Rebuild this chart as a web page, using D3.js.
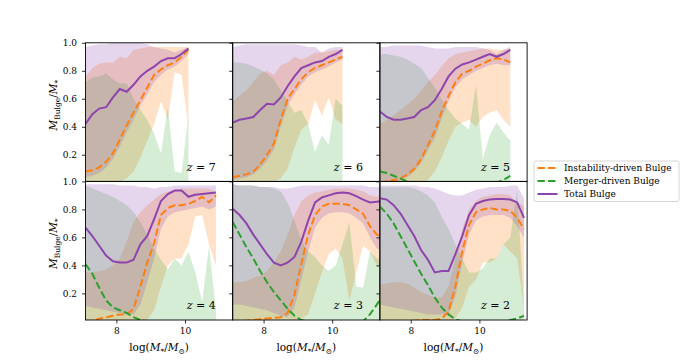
<!DOCTYPE html>
<html>
<head>
<meta charset="utf-8">
<script src="https://cdn.jsdelivr.net/npm/d3@7"></script>
<style>
  body { margin: 0; background: #fff; }
  svg text { font-family: "DejaVu Serif", serif; fill: #000; }
</style>
</head>
<body>
<div id="chart"></div>
<script>
// stellar mass bins, log(M*/Msun)
var massX = [7.1, 7.3, 7.5, 7.7, 7.9, 8.1, 8.3, 8.5, 8.7, 8.9, 9.1, 9.3, 9.5, 9.7, 9.9, 10.1, 10.3, 10.5, 10.7, 10.9, 11.1, 11.3, 11.5];
var merLow = [0, 0, 0, 0, 0, 0, 0, 0, 0, 0, 0, 0, 0, 0, 0, 0, 0, 0, 0, 0, 0, 0, 0];

// z = 7
var totMed7 = [0.42, 0.49, 0.53, 0.54, 0.61, 0.67, 0.65, 0.70, 0.76, 0.80, 0.83, 0.87, 0.89, 0.89, 0.92, 0.96];
var totLo7  = [0.04, 0.05, 0.07, 0.11, 0.17, 0.26, 0.36, 0.45, 0.55, 0.63, 0.72, 0.77, 0.81, 0.83, 0.87, 0.92];
var totHi7  = [0.97, 0.98, 0.99, 0.99, 1.0, 1.0, 1.0, 1.0, 1.0, 0.99, 0.97, 0.96, 0.95, 0.93, 0.95, 0.97];
var insMed7 = [0.08, 0.09, 0.11, 0.15, 0.21, 0.31, 0.41, 0.50, 0.59, 0.68, 0.77, 0.81, 0.84, 0.86, 0.90, 0.95];
var insLo7  = [0, 0, 0, 0, 0, 0.01, 0.03, 0.08, 0.18, 0.30, 0.42, 0.58, 0.45, 0.79, 0.77, 0.40];
var insHi7  = [0.76, 0.82, 0.85, 0.86, 0.86, 0.90, 0.89, 0.95, 0.96, 0.97, 0.97, 0.97, 0.97, 0.97, 0.97, 0.97];
var merMed7 = [0, 0, 0, 0, 0, 0, 0, 0, 0, 0, 0, 0, 0, 0, 0, 0];
var merHi7  = [0.72, 0.75, 0.76, 0.78, 0.74, 0.71, 0.71, 0.60, 0.52, 0.45, 0.35, 0.21, 0.54, 0.08, 0.07, 0.48];

// z = 6
var totMed6 = [0.43, 0.45, 0.46, 0.47, 0.52, 0.565, 0.56, 0.61, 0.69, 0.76, 0.82, 0.84, 0.86, 0.87, 0.90, 0.92, 0.95];
var totLo6  = [0.02, 0.03, 0.04, 0.06, 0.10, 0.16, 0.24, 0.40, 0.55, 0.63, 0.70, 0.76, 0.79, 0.81, 0.83, 0.86, 0.88];
var totHi6  = [0.97, 0.98, 0.99, 0.99, 0.99, 0.99, 0.99, 0.99, 0.99, 0.99, 0.98, 0.97, 0.97, 0.93, 0.96, 0.97, 0.97];
var insMed6 = [0.04, 0.05, 0.06, 0.08, 0.13, 0.20, 0.28, 0.45, 0.60, 0.67, 0.74, 0.79, 0.82, 0.84, 0.86, 0.88, 0.90];
var insLo6  = [0, 0, 0, 0, 0, 0, 0.01, 0.03, 0.10, 0.25, 0.38, 0.42, 0.59, 0.48, 0.61, 0.45, 0.42];
var insHi6  = [0.58, 0.62, 0.66, 0.72, 0.78, 0.80, 0.77, 0.84, 0.86, 0.90, 0.88, 0.90, 0.93, 0.93, 0.94, 0.95, 0.95];
var merMed6 = [0, 0, 0, 0, 0, 0, 0, 0, 0, 0, 0, 0, 0, 0, 0, 0, 0];
var merHi6  = [0.86, 0.86, 0.85, 0.83, 0.81, 0.78, 0.74, 0.66, 0.58, 0.50, 0.52, 0.42, 0.22, 0.34, 0.27, 0.60, 0.55];

// z = 5
var totMed5 = [0.51, 0.47, 0.45, 0.45, 0.46, 0.47, 0.52, 0.54, 0.59, 0.67, 0.76, 0.815, 0.845, 0.86, 0.88, 0.90, 0.92, 0.90, 0.92, 0.95];
var totLo5  = [0.0, 0.0, 0.01, 0.02, 0.04, 0.08, 0.14, 0.23, 0.32, 0.46, 0.58, 0.68, 0.74, 0.77, 0.80, 0.82, 0.84, 0.85, 0.84, 0.84];
var totHi5  = [0.97, 0.97, 0.98, 0.98, 0.98, 0.98, 0.98, 0.97, 0.96, 0.96, 0.96, 0.97, 0.97, 0.97, 0.97, 0.96, 0.95, 0.92, 0.95, 0.97];
var insMed5 = [0.0, 0.01, 0.02, 0.03, 0.06, 0.10, 0.17, 0.27, 0.37, 0.51, 0.62, 0.72, 0.78, 0.80, 0.83, 0.85, 0.875, 0.89, 0.88, 0.86];
var insLo5  = [0, 0, 0, 0, 0, 0, 0, 0.02, 0.08, 0.18, 0.30, 0.40, 0.43, 0.45, 0.40, 0.47, 0.50, 0.52, 0.45, 0.40];
var insHi5  = [0.42, 0.45, 0.48, 0.52, 0.56, 0.60, 0.66, 0.72, 0.77, 0.83, 0.89, 0.92, 0.93, 0.94, 0.95, 0.96, 0.96, 0.95, 0.95, 0.96];
var merMed5 = [0.08, 0.07, 0.05, 0.03, 0.01, 0, 0, 0, 0, 0, 0, 0, 0, 0, 0, 0, 0, 0, 0.02, 0.05];
var merHi5  = [0.92, 0.92, 0.91, 0.90, 0.88, 0.85, 0.82, 0.75, 0.68, 0.60, 0.52, 0.46, 0.42, 0.38, 0.70, 0.17, 0.34, 0.43, 0.36, 0.30];

// z = 4
var totMed4 = [0.67, 0.61, 0.54, 0.47, 0.43, 0.42, 0.42, 0.44, 0.55, 0.61, 0.73, 0.86, 0.91, 0.935, 0.935, 0.89, 0.905, 0.91, 0.915, 0.92];
var totLo4  = [0.11, 0.10, 0.09, 0.08, 0.07, 0.06, 0.05, 0.05, 0.12, 0.28, 0.45, 0.66, 0.75, 0.78, 0.79, 0.80, 0.81, 0.82, 0.80, 0.82];
var totHi4  = [0.98, 0.98, 0.98, 0.98, 0.98, 0.97, 0.97, 0.97, 0.96, 0.96, 0.95, 0.96, 0.96, 0.97, 0.97, 0.97, 0.97, 0.97, 0.97, 0.97];
var insMed4 = [0.0, 0.005, 0.02, 0.03, 0.04, 0.05, 0.05, 0.09, 0.25, 0.42, 0.56, 0.76, 0.81, 0.83, 0.83, 0.84, 0.86, 0.89, 0.85, 0.90];
var insLo4  = [0, 0, 0, 0, 0, 0, 0, 0, 0, 0.01, 0.08, 0.25, 0.40, 0.45, 0.45, 0.55, 0.75, 0.76, 0.55, 0.40];
var insHi4  = [0.35, 0.35, 0.36, 0.37, 0.40, 0.45, 0.57, 0.71, 0.78, 0.83, 0.87, 0.91, 0.93, 0.94, 0.95, 0.95, 0.95, 0.95, 0.95, 0.92];
var merMed4 = [0.41, 0.34, 0.24, 0.15, 0.10, 0.08, 0.06, 0.03, 0.01, 0, 0, 0, 0, 0, 0, 0, 0, 0, 0, 0];
var merHi4  = [0.97, 0.95, 0.93, 0.91, 0.89, 0.86, 0.83, 0.78, 0.71, 0.62, 0.52, 0.44, 0.37, 0.45, 0.40, 0.50, 0.35, 0.14, 0.54, 0.09];

// z = 3
var totMed3 = [0.805, 0.76, 0.70, 0.62, 0.55, 0.48, 0.42, 0.40, 0.42, 0.46, 0.57, 0.72, 0.85, 0.885, 0.90, 0.915, 0.92, 0.915, 0.895, 0.87, 0.85, 0.855, 0.86];
var totLo3  = [0.12, 0.12, 0.11, 0.10, 0.09, 0.08, 0.06, 0.04, 0.03, 0.10, 0.30, 0.50, 0.67, 0.74, 0.77, 0.78, 0.78, 0.77, 0.74, 0.70, 0.60, 0.52, 0.50];
var totHi3  = [0.98, 0.97, 0.97, 0.97, 0.96, 0.96, 0.96, 0.95, 0.95, 0.96, 0.97, 0.97, 0.97, 0.97, 0.97, 0.97, 0.97, 0.97, 0.97, 0.97, 0.96, 0.96, 0.96];
var insMed3 = [0.0, 0.0, 0.005, 0.01, 0.015, 0.02, 0.025, 0.03, 0.06, 0.19, 0.41, 0.62, 0.76, 0.82, 0.84, 0.84, 0.84, 0.83, 0.80, 0.77, 0.68, 0.62, 0.60];
var insLo3  = [0, 0, 0, 0, 0, 0, 0, 0, 0, 0, 0.02, 0.05, 0.20, 0.35, 0.48, 0.52, 0.45, 0.15, 0.35, 0.54, 0.50, 0.40, 0.40];
var insHi3  = [0.28, 0.28, 0.29, 0.31, 0.33, 0.36, 0.42, 0.50, 0.62, 0.76, 0.86, 0.90, 0.92, 0.93, 0.94, 0.95, 0.95, 0.95, 0.94, 0.93, 0.90, 0.89, 0.90];
var merMed3 = [0.71, 0.62, 0.53, 0.45, 0.36, 0.28, 0.21, 0.15, 0.09, 0.04, 0.01, 0, 0, 0, 0, 0, 0, 0, 0, 0, 0.05, 0.12, 0.20];
var merHi3  = [0.98, 0.97, 0.97, 0.97, 0.96, 0.96, 0.95, 0.93, 0.85, 0.72, 0.58, 0.50, 0.46, 0.40, 0.36, 0.40, 0.55, 0.71, 0.25, 0.24, 0.50, 0.45, 0.45];

// z = 2
var totMed2 = [0.88, 0.87, 0.83, 0.77, 0.69, 0.61, 0.51, 0.44, 0.35, 0.36, 0.36, 0.48, 0.61, 0.76, 0.84, 0.86, 0.87, 0.875, 0.875, 0.87, 0.85, 0.74];
var totLo2  = [0.12, 0.11, 0.10, 0.09, 0.08, 0.07, 0.06, 0.05, 0.05, 0.05, 0.05, 0.18, 0.42, 0.62, 0.72, 0.75, 0.76, 0.76, 0.76, 0.74, 0.68, 0.60];
var totHi2  = [0.97, 0.97, 0.97, 0.97, 0.97, 0.97, 0.96, 0.96, 0.95, 0.93, 0.91, 0.90, 0.90, 0.92, 0.94, 0.95, 0.96, 0.96, 0.96, 0.97, 0.97, 0.88];
var insMed2 = [0, 0, 0, 0, 0, 0.005, 0.01, 0.01, 0.01, 0.02, 0.07, 0.25, 0.50, 0.69, 0.78, 0.80, 0.81, 0.80, 0.80, 0.79, 0.74, 0.66];
var insLo2  = [0, 0, 0, 0, 0, 0, 0, 0, 0, 0, 0, 0.02, 0.10, 0.25, 0.30, 0.42, 0.42, 0.45, 0.55, 0.50, 0.45, 0.10];
var insHi2  = [0.26, 0.27, 0.28, 0.28, 0.27, 0.24, 0.21, 0.19, 0.17, 0.17, 0.25, 0.45, 0.66, 0.80, 0.86, 0.89, 0.90, 0.91, 0.91, 0.90, 0.85, 0.83];
var merMed2 = [0.82, 0.77, 0.70, 0.61, 0.52, 0.43, 0.34, 0.26, 0.17, 0.10, 0.05, 0.015, 0, 0, 0, 0, 0, 0, 0, 0.01, 0.02, 0.04];
var merHi2  = [0.96, 0.96, 0.96, 0.96, 0.96, 0.95, 0.93, 0.90, 0.85, 0.75, 0.66, 0.55, 0.45, 0.35, 0.35, 0.38, 0.45, 0.45, 0.55, 0.60, 0.94, 0.10];

var redshifts = [7, 6, 5, 4, 3, 2];
var yTicks = [0.2, 0.4, 0.6, 0.8, 1.0];
var xTicks = [8, 10];
var legendLabels = ["Instability-driven Bulge", "Merger-driven Bulge", "Total Bulge"];

var orange = "#ff7f0e", green = "#2ca02c", purple = "#8e44ad";

var panels = [
  { tot: [totLo7, totMed7, totHi7], ins: [insLo7, insMed7, insHi7], mer: [merLow.slice(0, 16), merMed7, merHi7] },
  { tot: [totLo6, totMed6, totHi6], ins: [insLo6, insMed6, insHi6], mer: [merLow.slice(0, 17), merMed6, merHi6] },
  { tot: [totLo5, totMed5, totHi5], ins: [insLo5, insMed5, insHi5], mer: [merLow.slice(0, 20), merMed5, merHi5] },
  { tot: [totLo4, totMed4, totHi4], ins: [insLo4, insMed4, insHi4], mer: [merLow.slice(0, 20), merMed4, merHi4] },
  { tot: [totLo3, totMed3, totHi3], ins: [insLo3, insMed3, insHi3], mer: [merLow.slice(0, 23), merMed3, merHi3] },
  { tot: [totLo2, totMed2, totHi2], ins: [insLo2, insMed2, insHi2], mer: [merLow.slice(0, 22), merMed2, merHi2] }
];

var svgWidth = 684, svgHeight = 360;
var margin = { left: 85.5, top: 42.8 };
var panelW = 147.2, panelH = 138.6;

var svg = d3.select("#chart").append("svg")
  .attr("width", svgWidth)
  .attr("height", svgHeight);

var x = d3.scaleLinear().domain([7.1, 11.39]).range([0, panelW]);
var y = d3.scaleLinear().domain([0.01, 1.0]).range([panelH, 0]);

panels.forEach(function(p, k) {
  var col = k % 3, row = Math.floor(k / 3);
  var g = svg.append("g")
    .attr("transform", `translate(${margin.left + col * panelW}, ${margin.top + row * panelH})`);

  g.append("clipPath").attr("id", "clip" + k)
    .append("rect").attr("width", panelW).attr("height", panelH);
  var plot = g.append("g").attr("clip-path", `url(#clip${k})`);

  var series = [
    { band: p.ins, color: orange, op: 0.23, dash: "7.4,3.2" },
    { band: p.mer, color: green, op: 0.2, dash: "7.4,3.2" },
    { band: p.tot, color: purple, op: 0.22, dash: null }
  ];

  // shaded ranges
  series.forEach(function(s) {
    var hi = s.band[2];
    var area = d3.area()
      .x((d, i) => x(massX[i]))
      .y0(d => y(d))
      .y1((d, i) => y(hi[i]));
    plot.append("path")
      .datum(s.band[0])
      .attr("d", area)
      .attr("fill", s.color)
      .attr("fill-opacity", s.op)
      .attr("stroke", "none");
  });

  // medians
  series.forEach(function(s) {
    var line = d3.line().x((d, i) => x(massX[i])).y(d => y(d));
    plot.append("path")
      .datum(s.band[1])
      .attr("d", line)
      .attr("fill", "none")
      .attr("stroke", s.color)
      .attr("stroke-width", 2)
      .attr("stroke-dasharray", s.dash);
  });

  // axes
  var leftAxis = d3.axisLeft(y).tickValues(yTicks).tickSize(3.5).tickPadding(5)
    .tickFormat(col === 0 ? d3.format(".1f") : "");
  var ya = g.append("g").call(leftAxis);
  ya.select(".domain").remove();
  ya.selectAll("line").attr("stroke", "#000").attr("stroke-width", 0.8);
  ya.selectAll("text").attr("font-family", "DejaVu Serif").attr("font-size", 9);

  if (row === 1) {
    var bottomAxis = d3.axisBottom(x).tickValues(xTicks).tickSize(3.5).tickPadding(4.5)
      .tickFormat(d3.format("d"));
    var xa = g.append("g").attr("transform", `translate(0, ${panelH})`).call(bottomAxis);
    xa.select(".domain").remove();
    xa.selectAll("line").attr("stroke", "#000").attr("stroke-width", 0.8);
    xa.selectAll("text").attr("font-family", "DejaVu Serif").attr("font-size", 9);

    var xl = g.append("text")
      .attr("x", panelW / 2)
      .attr("y", 309.5 - margin.top - panelH + 42)
      .attr("text-anchor", "middle")
      .attr("font-size", 10.5);
    xl.append("tspan").text("log(");
    xl.append("tspan").attr("font-style", "italic").text("M");
    xl.append("tspan").attr("font-size", 7.5).attr("dy", 2.5).text("*");
    xl.append("tspan").attr("dy", -2.5).text("/");
    xl.append("tspan").attr("font-style", "italic").text("M");
    xl.append("tspan").attr("font-size", 7.5).attr("dy", 2.5).text("\u2299");
    xl.append("tspan").attr("dy", -2.5).text(")");
  }

  // frame
  g.append("rect")
    .attr("width", panelW).attr("height", panelH)
    .attr("fill", "none").attr("stroke", "#000").attr("stroke-width", 0.9);

  // redshift label
  var zl = g.append("text")
    .attr("x", panelW - 17)
    .attr("y", panelH - 10.5)
    .attr("text-anchor", "end")
    .attr("font-size", 11);
  zl.append("tspan").attr("font-style", "italic").text("z");
  zl.append("tspan").text(" = " + redshifts[k]);

  // y label on the first column
  if (col === 0) {
    var yl = g.append("text")
      .attr("transform", `translate(${57 - margin.left}, ${panelH / 2 - 7}) rotate(-90)`)
      .attr("text-anchor", "middle")
      .attr("font-size", 10.5);
    yl.append("tspan").attr("font-style", "italic").text("M");
    yl.append("tspan").attr("font-size", 7.5).attr("dy", 2.5).text("Bulge");
    yl.append("tspan").attr("dy", -2.5).text("/");
    yl.append("tspan").attr("font-style", "italic").text("M");
    yl.append("tspan").attr("font-size", 7.5).attr("dy", 2.5).text("*");
  }
});

// legend
var legend = svg.append("g").attr("transform", "translate(534, 161)");
legend.append("rect")
  .attr("width", 145).attr("height", 40.5).attr("rx", 2)
  .attr("fill", "#fff").attr("stroke", "#cccccc").attr("stroke-width", 0.8);
var legendStyles = [
  { color: orange, dash: "7.4,3.2" },
  { color: green, dash: "7.4,3.2" },
  { color: purple, dash: null }
];
legendLabels.forEach(function(label, i) {
  var cy = 7 + i * 13;
  legend.append("line")
    .attr("x1", 3.5).attr("x2", 23.5).attr("y1", cy).attr("y2", cy)
    .attr("stroke", legendStyles[i].color).attr("stroke-width", 2)
    .attr("stroke-dasharray", legendStyles[i].dash);
  legend.append("text")
    .attr("x", 30).attr("y", cy + 3.2)
    .attr("font-size", 9)
    .text(label);
});
</script>
</body>
</html>
